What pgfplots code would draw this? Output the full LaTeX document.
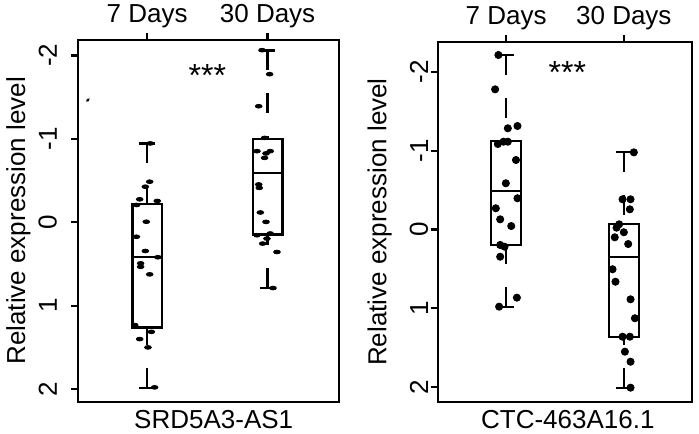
\documentclass[border=0pt]{standalone}
\usepackage{fontspec}
\setmainfont{Liberation Sans}
\usepackage{pgfplots}
\pgfplotsset{compat=1.18}

\pgfplotsset{
  panel/.style={
    scale only axis,
    y dir=reverse,
    axis line style={line width=1.1pt},
    every tick/.style={line width=1.1pt, black},
    major tick length=3.5pt,
    tick align=outside,
    xtick={1,2}, xticklabels={7 Days,30 Days},
    xtick pos=right, xticklabel pos=right,
    ytick={-2,-1,0,1,2}, yticklabels={-2,-1,0,1,2},
    ytick pos=left,
    tick label style={font=\fontsize{13}{15}\selectfont},
    xticklabel style={yshift=-1pt},
    label style={font=\fontsize{13}{15}\selectfont},
    ylabel={Relative expression level},
  },
  boxline/.style={black, line width=1.1pt, no marks},
  whisk/.style={black, line width=1.1pt, no marks, dash pattern=on 10pt off 11.5pt},
}

\begin{document}
\begin{tikzpicture}
\path[use as bounding box] (0,0) rectangle (349.5pt,-216.5pt);

% ---- left panel: SRD5A3-AS1
\begin{axis}[panel,
  at={(39pt,-200.85pt)}, anchor=south west,
  width=130.5pt, height=180.85pt,
  xmin=0.426, xmax=2.593, ymin=-2.185, ymax=2.152,
  yticklabel style={xshift=-3.5pt, rotate=90, anchor=south},
  xlabel={SRD5A3-AS1},
  xlabel style={at={(axis description cs:0.52,0)}, anchor=base, yshift=-13.3pt},
  ylabel style={at={(axis description cs:-0.228,0.5)}, anchor=center},
]
% 7 Days
\addplot[boxline] coordinates {(1,-0.22) (1.122,-0.22) (1.122,1.263) (0.878,1.263) (0.878,-0.22) (1,-0.22)};
\addplot[boxline] coordinates {(0.878,0.415) (1.122,0.415)};
\addplot[whisk] coordinates {(1,-0.945) (1,-0.22)};
\addplot[whisk] coordinates {(1,1.99) (1,1.263)};
\addplot[boxline] coordinates {(0.935,-0.945) (1.065,-0.945)};
\addplot[boxline] coordinates {(0.935,1.99) (1.065,1.99)};
% 30 Days
\addplot[boxline] coordinates {(2,-0.998) (2.124,-0.998) (2.124,0.148) (1.876,0.148) (1.876,-0.998) (2,-0.998)};
\addplot[boxline] coordinates {(1.876,-0.586) (2.124,-0.586)};
\addplot[whisk] coordinates {(2,-2.06) (2,-0.998)};
\addplot[whisk] coordinates {(2,0.79) (2,0.148)};
\addplot[boxline] coordinates {(1.935,-2.06) (2.065,-2.06)};
\addplot[boxline] coordinates {(1.935,0.79) (2.065,0.79)};
% points
\addplot[only marks, mark=*, mark size=1.05pt, mark options={xscale=1.6, yscale=0.9, fill=black, draw=black}] coordinates {
  (1.026,-0.945) (1.021,-0.486) (0.985,-0.426) (0.938,-0.275) (1.084,-0.255)
  (0.913,-0.207) (0.993,-0.006) (0.911,0.174) (0.985,0.345) (0.946,0.493)
  (0.946,0.534) (1.021,0.625) (1.089,0.42) (0.897,1.233) (1.035,1.314)
  (0.938,1.401) (1.007,1.501) (1.062,1.98)
};
\addplot[only marks, mark=*, mark size=1.05pt, mark options={xscale=1.6, yscale=0.9, fill=black, draw=black}] coordinates {
  (1.954,-2.063) (2.017,-1.775) (1.926,-1.391) (1.975,-1.011) (1.912,-0.852)
  (2.022,-0.852) (1.987,-0.825) (1.975,-0.772) (1.926,-0.453) (1.931,-0.412)
  (1.940,-0.117) (1.987,-0.004) (2.022,0.135) (1.912,0.156) (1.995,0.196)
  (1.959,0.256) (2.078,0.357) (2.045,0.789)
};
\addplot[only marks, mark=*, mark size=0.5pt, mark options={rotate=45, xscale=1.6, fill=black}] coordinates {(0.508,-1.465)};
\node[font=\fontsize{16}{18}\selectfont, anchor=base, yshift=-8.2pt] at (axis cs:1.5,-1.83) {***};
\end{axis}

% ---- right panel: CTC-463A16.1
\begin{axis}[panel,
  at={(218.85pt,-200.85pt)}, anchor=south west,
  width=127.3pt, height=179.7pt,
  xmin=0.418, xmax=2.582, ymin=-2.373, ymax=2.183,
  yticklabel style={xshift=2.2pt, rotate=90, anchor=south},
  xlabel={CTC-463A16.1},
  xlabel style={at={(axis description cs:0.511,0)}, anchor=base, yshift=-13.3pt},
  ylabel style={at={(axis description cs:-0.228,0.5)}, anchor=center},
]
% 7 Days
\addplot[boxline] coordinates {(1,-1.125) (1.128,-1.125) (1.128,0.196) (0.872,0.196) (0.872,-1.125) (1,-1.125)};
\addplot[boxline] coordinates {(0.872,-0.492) (1.128,-0.492)};
\addplot[whisk] coordinates {(1,-2.21) (1,-1.125)};
\addplot[whisk] coordinates {(1,0.978) (1,0.196)};
\addplot[boxline] coordinates {(0.936,-2.21) (1.064,-2.21)};
\addplot[boxline] coordinates {(0.936,0.978) (1.064,0.978)};
% 30 Days
\addplot[boxline] coordinates {(2,-0.066) (2.128,-0.066) (2.128,1.359) (1.872,1.359) (1.872,-0.066) (2,-0.066)};
\addplot[boxline] coordinates {(1.872,0.352) (2.128,0.352)};
\addplot[whisk] coordinates {(2,-0.978) (2,-0.066)};
\addplot[whisk] coordinates {(2,2.005) (2,1.359)};
\addplot[boxline] coordinates {(1.936,-0.978) (2.064,-0.978)};
\addplot[boxline] coordinates {(1.936,2.005) (2.064,2.005)};
% points
\addplot[only marks, mark=*, mark size=1.8pt, mark options={fill=black, draw=black}] coordinates {
  (0.934,-2.212) (0.906,-1.777) (1.014,-1.283) (1.096,-1.312) (0.929,-1.084)
  (0.977,-1.113) (1.014,-1.113) (1.083,-0.881) (0.997,-0.586) (1.096,-0.396)
  (0.912,-0.269) (0.949,-0.129) (1.043,-0.044) (0.949,0.196) (0.986,0.218)
  (0.949,0.345) (1.091,0.864) (0.940,0.978)
};
\addplot[only marks, mark=*, mark size=1.8pt, mark options={fill=black, draw=black}] coordinates {
  (2.085,-0.978) (1.989,-0.383) (2.057,-0.383) (2.051,-0.256) (1.960,-0.066)
  (1.938,-0.023) (2.000,0.035) (1.923,0.099) (2.037,0.184) (1.904,0.504)
  (1.929,0.662) (2.057,0.885) (2.094,1.125) (1.989,1.359) (2.051,1.359)
  (2.009,1.549) (2.057,1.676) (2.057,2.005)
};
\node[font=\fontsize{16}{18}\selectfont, anchor=base, yshift=-8.7pt] at (axis cs:1.52,-2.07) {***};
\end{axis}
\end{tikzpicture}
\end{document}
